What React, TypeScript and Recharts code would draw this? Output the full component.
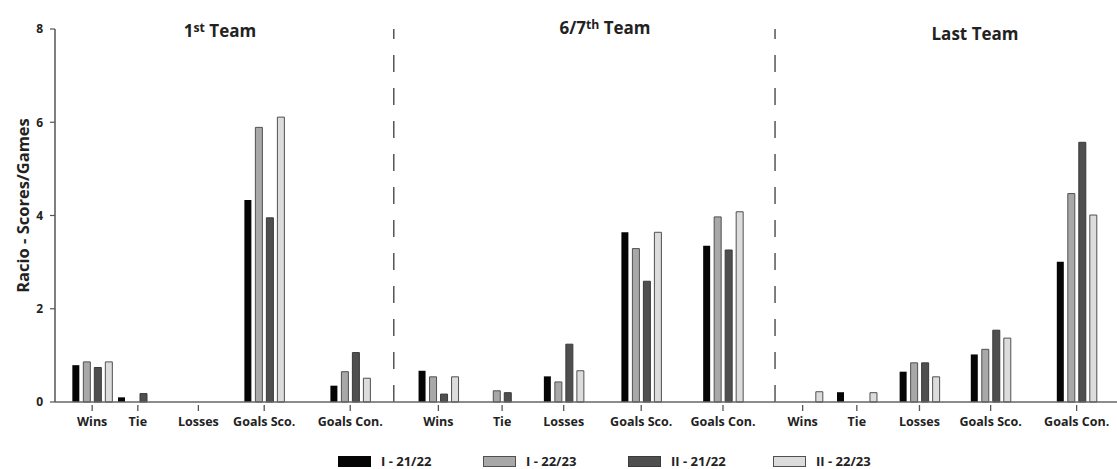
import React from 'react';
import { BarChart, Bar, XAxis, YAxis, ReferenceLine, Legend, Label } from 'recharts';

// categories along the x axis (three teams, five measures each)
const categories = [
    'Wins', 'Tie', 'Losses', 'Goals Sco.', 'Goals Con.',
    'Wins', 'Tie', 'Losses', 'Goals Sco.', 'Goals Con.',
    'Wins', 'Tie', 'Losses', 'Goals Sco.', 'Goals Con.',
];
// where each category sits on the 0-100 x axis (spacing is uneven in the original)
const categoryPos = [
    3.5, 7.8, 13.5, 19.7, 27.8,
    36.1, 42.1, 47.9, 55.2, 62.9,
    70.4, 75.5, 81.4, 88.1, 96.2,
];
const teamDividers = [31.9, 67.8];

const seriesNames = ['I - 21/22', 'I - 22/23', 'II - 21/22', 'II - 22/23'];
const i2122 = [0.79, 0.1, 0, 4.33, 0.35, 0.67, 0, 0.55, 3.64, 3.35, 0, 0.21, 0.65, 1.02, 3.01];
const i2223 = [0.86, 0, 0, 5.89, 0.65, 0.54, 0.24, 0.43, 3.29, 3.97, 0, 0, 0.84, 1.13, 4.47];
const ii2122 = [0.74, 0.18, 0, 3.95, 1.06, 0.17, 0.2, 1.24, 2.59, 3.26, 0, 0, 0.84, 1.54, 5.57];
const ii2223 = [0.86, 0, 0, 6.11, 0.51, 0.54, 0, 0.67, 3.64, 4.08, 0.22, 0.2, 0.54, 1.37, 4.01];
const yTicks = [0, 2, 4, 6, 8];

const FONT = '"Open Sans", Lato, sans-serif';

const barStyles = [
    { fill: '#050505', stroke: 'none' },
    { fill: '#a8a8a8', stroke: '#505050' },
    { fill: '#4f4f4f', stroke: '#3a3a3a' },
    { fill: '#dcdcdc', stroke: '#505050' },
];

const data = categories.map((name, i) => ({
    name,
    pos: categoryPos[i],
    [seriesNames[0]]: i2122[i],
    [seriesNames[1]]: i2223[i],
    [seriesNames[2]]: ii2122[i],
    [seriesNames[3]]: ii2223[i],
}));

const CategoryTick = (props: any) => {
    const { x, y, index } = props;
    return (
        <g transform={`translate(${x},${y})`}>
            <line x1={0} x2={0} y1={3} y2={9} stroke="#555" strokeWidth={1.3} />
            <text
                x={0}
                y={24}
                textAnchor="middle"
                fontFamily={FONT}
                fontWeight={700}
                fontSize={12.5}
                fill="#222"
            >
                {categories[index]}
            </text>
        </g>
    );
};

const YTitle = (props: any) => {
    const { viewBox } = props;
    const cx = viewBox.x + 22;
    const cy = viewBox.y + viewBox.height / 2 - 10;
    return (
        <text
            x={cx}
            y={cy}
            transform={`rotate(-90, ${cx}, ${cy})`}
            textAnchor="middle"
            dominantBaseline="central"
            fontFamily={FONT}
            fontWeight={700}
            fontSize={16.5}
            fill="#222"
        >
            Racio - Scores/Games
        </text>
    );
};

const renderLegend = (props: any) => {
    const { payload } = props;
    return (
        <div
            style={{
                display: 'flex',
                height: 14,
                alignItems: 'center',
                fontFamily: FONT,
                fontWeight: 700,
                fontSize: 13,
                lineHeight: '14px',
                color: '#222',
            }}
        >
            {payload.map((entry: any, i: number) => (
                <div
                    key={entry.value}
                    style={{ display: 'flex', alignItems: 'center', width: i < 3 ? 145 : 'auto' }}
                >
                    <span
                        style={{
                            display: 'inline-block',
                            width: 33,
                            height: 11,
                            boxSizing: 'border-box',
                            background: barStyles[i].fill,
                            border: barStyles[i].stroke === 'none' ? 'none' : `1px solid ${barStyles[i].stroke}`,
                        }}
                    />
                    <span style={{ marginLeft: 10 }}>{entry.value}</span>
                </div>
            ))}
        </div>
    );
};

const titleStyle: React.CSSProperties = {
    position: 'absolute',
    transform: 'translateX(-50%)',
    fontFamily: FONT,
    fontWeight: 700,
    fontSize: 17,
    lineHeight: '17px',
    color: '#222',
    whiteSpace: 'nowrap',
};
const supStyle: React.CSSProperties = { fontSize: '0.72em', verticalAlign: '0.45em', lineHeight: 0 };

export default function App() {
    return (
        <div style={{ position: 'absolute', left: 0, top: 0, width: 1117, height: 469, background: '#fff', overflow: 'hidden' }}>
            <BarChart
                width={1117}
                height={469}
                data={data}
                margin={{ top: 29, right: 0, left: 0, bottom: 23 }}
                barSize={7}
                barGap={4}
            >
                <XAxis
                    type="number"
                    dataKey="pos"
                    domain={[0, 100]}
                    ticks={categoryPos}
                    interval={0}
                    tick={<CategoryTick />}
                    tickLine={false}
                    tickSize={0}
                    tickMargin={0}
                    height={30}
                    axisLine={{ stroke: '#666', strokeWidth: 1.5 }}
                />
                <YAxis
                    domain={[0, 8]}
                    ticks={yTicks}
                    width={55}
                    tickSize={5}
                    tickMargin={7}
                    tickLine={{ stroke: '#555', strokeWidth: 1.2 }}
                    axisLine={{ stroke: '#555', strokeWidth: 1.5 }}
                    tick={{ fontFamily: FONT, fontWeight: 700, fontSize: 12, fill: '#222' }}
                >
                    <Label content={<YTitle />} />
                </YAxis>
                {teamDividers.map((x) => (
                    <ReferenceLine key={x} x={x} stroke="#555" strokeWidth={1.5} strokeDasharray="17 16" />
                ))}
                {seriesNames.map((name, i) => (
                    <Bar
                        key={name}
                        dataKey={name}
                        fill={barStyles[i].fill}
                        stroke={barStyles[i].stroke}
                        strokeWidth={1}
                        isAnimationActive={false}
                    />
                ))}
                <Legend
                    verticalAlign="bottom"
                    content={renderLegend}
                    wrapperStyle={{ left: 338, bottom: 1, width: 'auto' }}
                />
            </BarChart>
            <div style={{ ...titleStyle, left: 220, top: 22 }}>
                1<sup style={supStyle}>st</sup> Team
            </div>
            <div style={{ ...titleStyle, left: 605, top: 19 }}>
                6/7<sup style={supStyle}>th</sup> Team
            </div>
            <div style={{ ...titleStyle, left: 975, top: 25 }}>Last Team</div>
        </div>
    );
}
